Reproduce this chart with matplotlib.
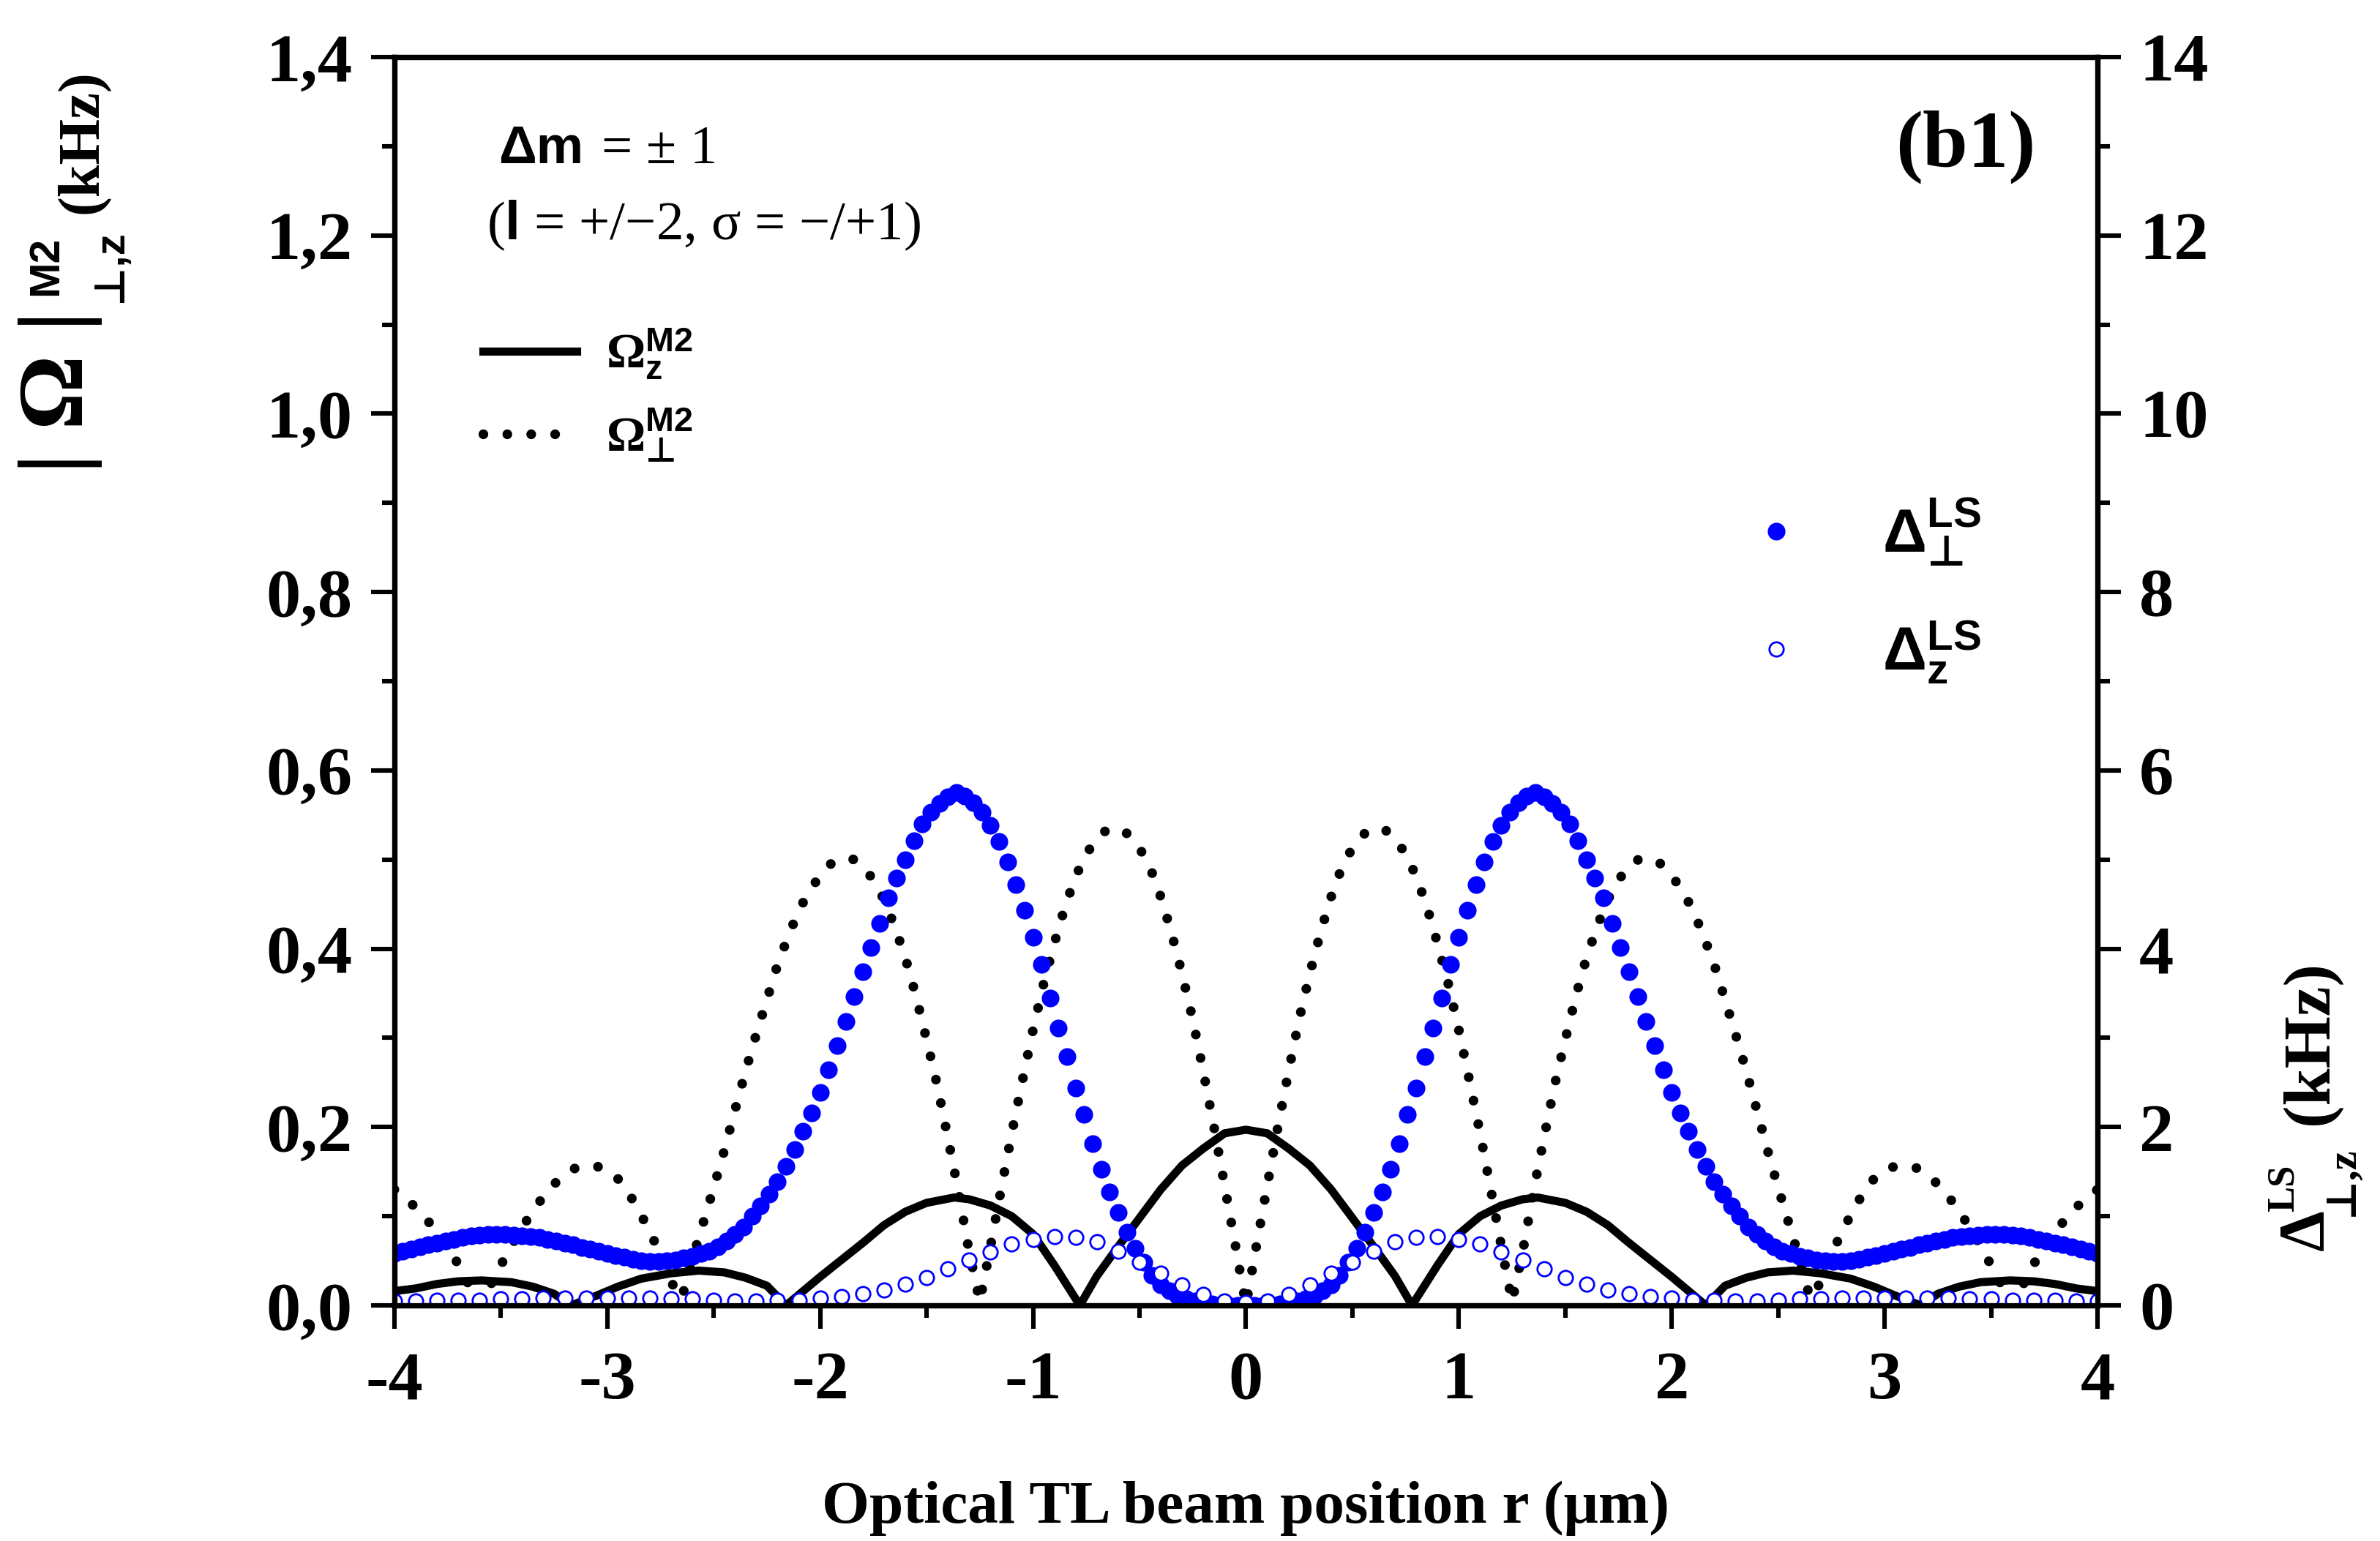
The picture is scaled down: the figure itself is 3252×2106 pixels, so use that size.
import numpy as np
import matplotlib
matplotlib.use('Agg')
import matplotlib.pyplot as plt
from matplotlib.ticker import MultipleLocator

plt.rcParams['font.family'] = ['Liberation Serif', 'DejaVu Serif']
plt.rcParams['font.weight'] = 'bold'
plt.rcParams['axes.unicode_minus'] = False
plt.rcParams['mathtext.fontset'] = 'custom'
plt.rcParams['mathtext.rm'] = 'Liberation Serif:bold'
plt.rcParams['mathtext.it'] = 'Liberation Serif:bold'
plt.rcParams['mathtext.bf'] = 'Liberation Serif:bold'
plt.rcParams['mathtext.sf'] = 'Liberation Sans:bold'
plt.rcParams['mathtext.tt'] = 'DejaVu Sans'
plt.rcParams['mathtext.fallback'] = 'stix'

# ---- data ----
# |Omega_perp^M2| (kHz), r = -4 ... 4 step 0.05
r_perp = np.linspace(-4, 4, 161)
omega_perp = [
    0.130, 0.120, 0.110, 0.097, 0.082, 0.066, 0.046, 0.023, 0.002, 0.022,
    0.045, 0.067, 0.087, 0.106, 0.122, 0.136, 0.146, 0.154, 0.157, 0.156, 0.152,
    0.142, 0.126, 0.106, 0.082, 0.058, 0.026, 0.008, 0.052, 0.092, 0.132,
    0.174, 0.219, 0.263, 0.304, 0.343, 0.382, 0.414, 0.443, 0.465, 0.482,
    0.495, 0.501, 0.501, 0.493, 0.477, 0.455, 0.425, 0.390, 0.347, 0.298,
    0.247, 0.188, 0.127, 0.060, 0.004, 0.066, 0.130, 0.193, 0.252, 0.309,
    0.361, 0.406, 0.447, 0.481, 0.506, 0.524, 0.534, 0.535, 0.528, 0.513,
    0.491, 0.458, 0.418, 0.372, 0.321, 0.262, 0.200, 0.134, 0.068,
    0.000,
    0.068, 0.134, 0.200, 0.262, 0.321, 0.372, 0.418, 0.458, 0.491, 0.513,
    0.528, 0.535, 0.534, 0.524, 0.506, 0.481, 0.447, 0.406, 0.361, 0.309,
    0.252, 0.193, 0.130, 0.066, 0.004, 0.060, 0.127, 0.188, 0.247, 0.298,
    0.347, 0.390, 0.425, 0.455, 0.477, 0.493, 0.501, 0.501, 0.495, 0.482,
    0.465, 0.443, 0.414, 0.382, 0.343, 0.304, 0.263, 0.219, 0.174, 0.132,
    0.092, 0.052, 0.008, 0.026, 0.058, 0.082, 0.106, 0.126, 0.142, 0.152,
    0.156, 0.157, 0.154, 0.146, 0.136, 0.122, 0.106, 0.087, 0.067, 0.045,
    0.022, 0.002, 0.023, 0.046, 0.066, 0.082, 0.097, 0.110, 0.120, 0.130,
]

# |Omega_z^M2| (kHz)
r_z = [-4.00, -3.90, -3.80, -3.70, -3.59, -3.45, -3.35, -3.25, -3.17, -3.05,
       -2.95, -2.84, -2.70, -2.57, -2.45, -2.35, -2.25, -2.16, -2.10, -2.00,
       -1.90, -1.80, -1.70, -1.60, -1.50, -1.37, -1.30, -1.20, -1.10, -1.00,
       -0.90, -0.78, -0.70, -0.60, -0.50, -0.40, -0.30, -0.20, -0.10, 0.00,
       0.10, 0.20, 0.30, 0.40, 0.50, 0.60, 0.70, 0.78, 0.90, 1.00,
       1.10, 1.20, 1.30, 1.37, 1.50, 1.60, 1.70, 1.80, 1.90, 2.00,
       2.10, 2.16, 2.25, 2.35, 2.45, 2.57, 2.70, 2.84, 2.95, 3.05,
       3.17, 3.25, 3.35, 3.45, 3.59, 3.70, 3.80, 3.90, 4.00]
omega_z = [0.016, 0.019, 0.024, 0.027, 0.028, 0.026, 0.021, 0.013, 0.000, 0.011,
           0.021, 0.030, 0.036, 0.039, 0.037, 0.031, 0.022, 0.000, 0.012, 0.032,
           0.051, 0.070, 0.090, 0.105, 0.115, 0.121, 0.119, 0.112, 0.100, 0.080,
           0.045, 0.000, 0.033, 0.066, 0.098, 0.130, 0.157, 0.176, 0.193, 0.197,
           0.193, 0.176, 0.157, 0.130, 0.098, 0.066, 0.033, 0.000, 0.045, 0.080,
           0.100, 0.112, 0.119, 0.121, 0.115, 0.105, 0.090, 0.070, 0.051, 0.032,
           0.012, 0.000, 0.022, 0.031, 0.037, 0.039, 0.036, 0.030, 0.021, 0.011,
           0.000, 0.013, 0.021, 0.026, 0.028, 0.027, 0.024, 0.019, 0.016]

# Delta_perp^LS (kHz), r = -4 ... 4 step 0.04
r_ls_perp = np.linspace(-4, 4, 201)
delta_perp = [
    0.58, 0.61, 0.63, 0.66, 0.68, 0.70, 0.72, 0.74, 0.76, 0.78,
    0.79, 0.80, 0.80, 0.80, 0.79, 0.78, 0.77, 0.76, 0.74, 0.72,
    0.70, 0.68, 0.65, 0.63, 0.61, 0.58, 0.56, 0.54, 0.52, 0.50,
    0.49, 0.49, 0.50, 0.51, 0.53, 0.55, 0.58, 0.61, 0.66, 0.72,
    0.80, 0.88, 1.00, 1.12, 1.25, 1.39, 1.56, 1.75, 1.95, 2.16,
    2.39, 2.64, 2.91, 3.18, 3.46, 3.74, 4.01, 4.28, 4.57, 4.79,
    5.00, 5.21, 5.40, 5.53, 5.63, 5.70, 5.75, 5.71, 5.64, 5.53,
    5.38, 5.20, 4.97, 4.72, 4.43, 4.13, 3.82, 3.45, 3.11, 2.79,
    2.44, 2.14, 1.81, 1.53, 1.27, 1.04, 0.82, 0.64, 0.48, 0.34,
    0.23, 0.16, 0.11, 0.07, 0.05, 0.03, 0.02, 0.01, 0.00, 0.00,
    0.00,
    0.00, 0.00, 0.01, 0.02, 0.03, 0.05, 0.07, 0.11, 0.16, 0.23,
    0.34, 0.48, 0.64, 0.82, 1.04, 1.27, 1.53, 1.81, 2.14, 2.44,
    2.79, 3.11, 3.45, 3.82, 4.13, 4.43, 4.72, 4.97, 5.20, 5.38,
    5.53, 5.64, 5.71, 5.75, 5.70, 5.63, 5.53, 5.40, 5.21, 5.00,
    4.79, 4.57, 4.28, 4.01, 3.74, 3.46, 3.18, 2.91, 2.64, 2.39,
    2.16, 1.95, 1.75, 1.56, 1.39, 1.25, 1.12, 1.00, 0.88, 0.80,
    0.72, 0.66, 0.61, 0.58, 0.55, 0.53, 0.51, 0.50, 0.49, 0.49,
    0.50, 0.52, 0.54, 0.56, 0.58, 0.61, 0.63, 0.65, 0.68, 0.70,
    0.72, 0.74, 0.76, 0.77, 0.78, 0.79, 0.80, 0.80, 0.80, 0.79,
    0.78, 0.76, 0.74, 0.72, 0.70, 0.68, 0.66, 0.63, 0.61, 0.58,
]

# Delta_z^LS (kHz), r = -4 ... 4 step 0.1
r_ls_z = np.linspace(-4, 4, 81)
delta_z = [
    0.05, 0.05, 0.06, 0.06, 0.06, 0.07, 0.07, 0.08, 0.08, 0.08,
    0.08, 0.08, 0.08, 0.07, 0.07, 0.06, 0.05, 0.05, 0.06, 0.06,
    0.08, 0.10, 0.13, 0.17, 0.24, 0.31, 0.41, 0.51, 0.60, 0.69,
    0.74, 0.77, 0.76, 0.71, 0.61, 0.48, 0.36, 0.23, 0.12, 0.05,
    0.03,
    0.05, 0.12, 0.23, 0.36, 0.48, 0.61, 0.71, 0.76, 0.77, 0.74,
    0.69, 0.60, 0.51, 0.41, 0.31, 0.24, 0.17, 0.13, 0.10, 0.08,
    0.06, 0.06, 0.05, 0.05, 0.06, 0.07, 0.07, 0.08, 0.08, 0.08,
    0.08, 0.08, 0.08, 0.07, 0.07, 0.06, 0.06, 0.06, 0.05, 0.05,
]

x_ticks = [-4, -3, -2, -1, 0, 1, 2, 3, 4]
x_tick_labels = ['-4', '-3', '-2', '-1', '0', '1', '2', '3', '4']
y_ticks = [0.0, 0.2, 0.4, 0.6, 0.8, 1.0, 1.2, 1.4]
y_tick_labels = ['0,0', '0,2', '0,4', '0,6', '0,8', '1,0', '1,2', '1,4']
y2_ticks = [0, 2, 4, 6, 8, 10, 12, 14]
y2_tick_labels = ['0', '2', '4', '6', '8', '10', '12', '14']

BLUE = '#0000ff'
W, H = 3252, 2106

fig = plt.figure(figsize=(16.26, 10.53), dpi=200)
ax = fig.add_axes([0.1657, 0.1529, 0.7156, 0.8101])
ax2 = ax.twinx()

h_z, = ax.plot(r_z, omega_z, color='black', lw=4.0, solid_joinstyle='round')
h_perp, = ax.plot(r_perp, omega_perp, color='black', lw=4.8,
                  linestyle=(0, (0.001, 2.45)), dash_capstyle='round')
h_dp, = ax2.plot(r_ls_perp, delta_perp, 'o', ms=8.7, color=BLUE, mec='none')
h_dz, = ax2.plot(r_ls_z, delta_z, 'o', ms=7.0, mfc='white', mec=BLUE, mew=1.0)

ax.set_xlim(-4, 4)
ax.set_ylim(0, 1.4)
ax2.set_ylim(0, 14)

ax.set_xticks(x_ticks)
ax.set_xticklabels(x_tick_labels)
ax.xaxis.set_minor_locator(MultipleLocator(0.5))
ax.set_yticks(y_ticks)
ax.set_yticklabels(y_tick_labels)
ax.yaxis.set_minor_locator(MultipleLocator(0.1))
ax2.set_yticks(y2_ticks)
ax2.set_yticklabels(y2_tick_labels)
ax2.yaxis.set_minor_locator(MultipleLocator(1))

for a in (ax, ax2):
    for s in a.spines.values():
        s.set_linewidth(2.6)
ax.tick_params(which='major', direction='out', length=11.5, width=2.2, labelsize=34)
ax.tick_params(which='minor', direction='out', length=6, width=2.2)
ax.tick_params(axis='x', which='major', pad=11)
ax.tick_params(axis='y', which='major', pad=9)
ax.tick_params(top=False, right=False, which='both')
ax2.tick_params(which='major', direction='out', length=11.5, width=2.2, labelsize=34, pad=9)
ax2.tick_params(which='minor', direction='out', length=6, width=2.2)
ax2.tick_params(left=False, top=False, which='both')

ax.set_xlabel('Optical TL beam position r (\u03bcm)', fontsize=30,
              fontweight='bold', labelpad=33)

# left axis label pieces
fig.text(82 / W, 1 - 536 / H, '| \u03a9 |', rotation=90, fontsize=46,
         ha='center', va='center')
fig.text(63 / W, 1 - 363 / H, 'M2', rotation=90, fontsize=21,
         family=['Liberation Sans', 'DejaVu Sans'], ha='center', va='center')
fig.text(151 / W, 1 - 364 / H, '\u22a5,z', rotation=90, fontsize=21,
         family=['Liberation Sans', 'DejaVu Sans'], ha='center', va='center')
fig.text(113 / W, 1 - 194 / H, '(kHz)', rotation=90, fontsize=29,
         ha='center', va='center')

# right axis label pieces
fig.text(3152 / W, 1 - 1681 / H, '\u0394', rotation=90, fontsize=32,
         ha='center', va='center')
fig.text(3121 / W, 1 - 1624 / H, 'LS', rotation=90, fontsize=19,
         ha='center', va='center')
fig.text(3200 / W, 1 - 1614 / H, '\u22a5,z', rotation=90, fontsize=21,
         ha='center', va='center')
fig.text(3158 / W, 1 - 1425 / H, '(kHz)', rotation=90, fontsize=33,
         ha='center', va='center')

# annotations
ax.text(0.061, 0.915, '\u0394m', transform=ax.transAxes, fontsize=26,
        family=['Liberation Sans', 'DejaVu Sans'], ha='left', va='baseline')
ax.text(0.1216, 0.915, '= \u00b1 1', transform=ax.transAxes, fontsize=27,
        fontweight='normal', ha='left', va='baseline')
ax.text(0.054, 0.854, '($\\mathsf{l}$ = +/\u22122, \u03c3 = \u2212/+1)',
        transform=ax.transAxes, fontsize=27, fontweight='normal',
        ha='left', va='baseline')
ax.text(0.9226, 0.928, '(b1)', transform=ax.transAxes, fontsize=40,
        ha='center', va='center')

leg1 = ax.legend([h_z, h_perp],
                 ['$\\Omega^{\\mathsf{M2}}_{\\mathsf{z}}$',
                  '$\\Omega^{\\mathsf{M2}}_{\\mathtt{\u22a5}}$'],
                 loc='center left', bbox_to_anchor=(0.052, 0.729),
                 frameon=False, fontsize=24, handlelength=1.92,
                 handletextpad=0.6, labelspacing=0.52,
                 borderpad=0, borderaxespad=0)
leg2 = ax2.legend([h_dp, h_dz],
                  ['$\\mathsf{\\Delta}^{\\mathsf{LS}}_{\\mathtt{\u22a5}}$',
                   '$\\mathsf{\\Delta}^{\\mathsf{LS}}_{\\mathsf{z}}$'],
                  loc='center left', bbox_to_anchor=(0.778, 0.572),
                  frameon=False, fontsize=30, handlelength=1.87,
                  handletextpad=0.8, labelspacing=0.85, numpoints=1,
                  borderpad=0, borderaxespad=0)

fig.savefig('out.png', dpi=200)
